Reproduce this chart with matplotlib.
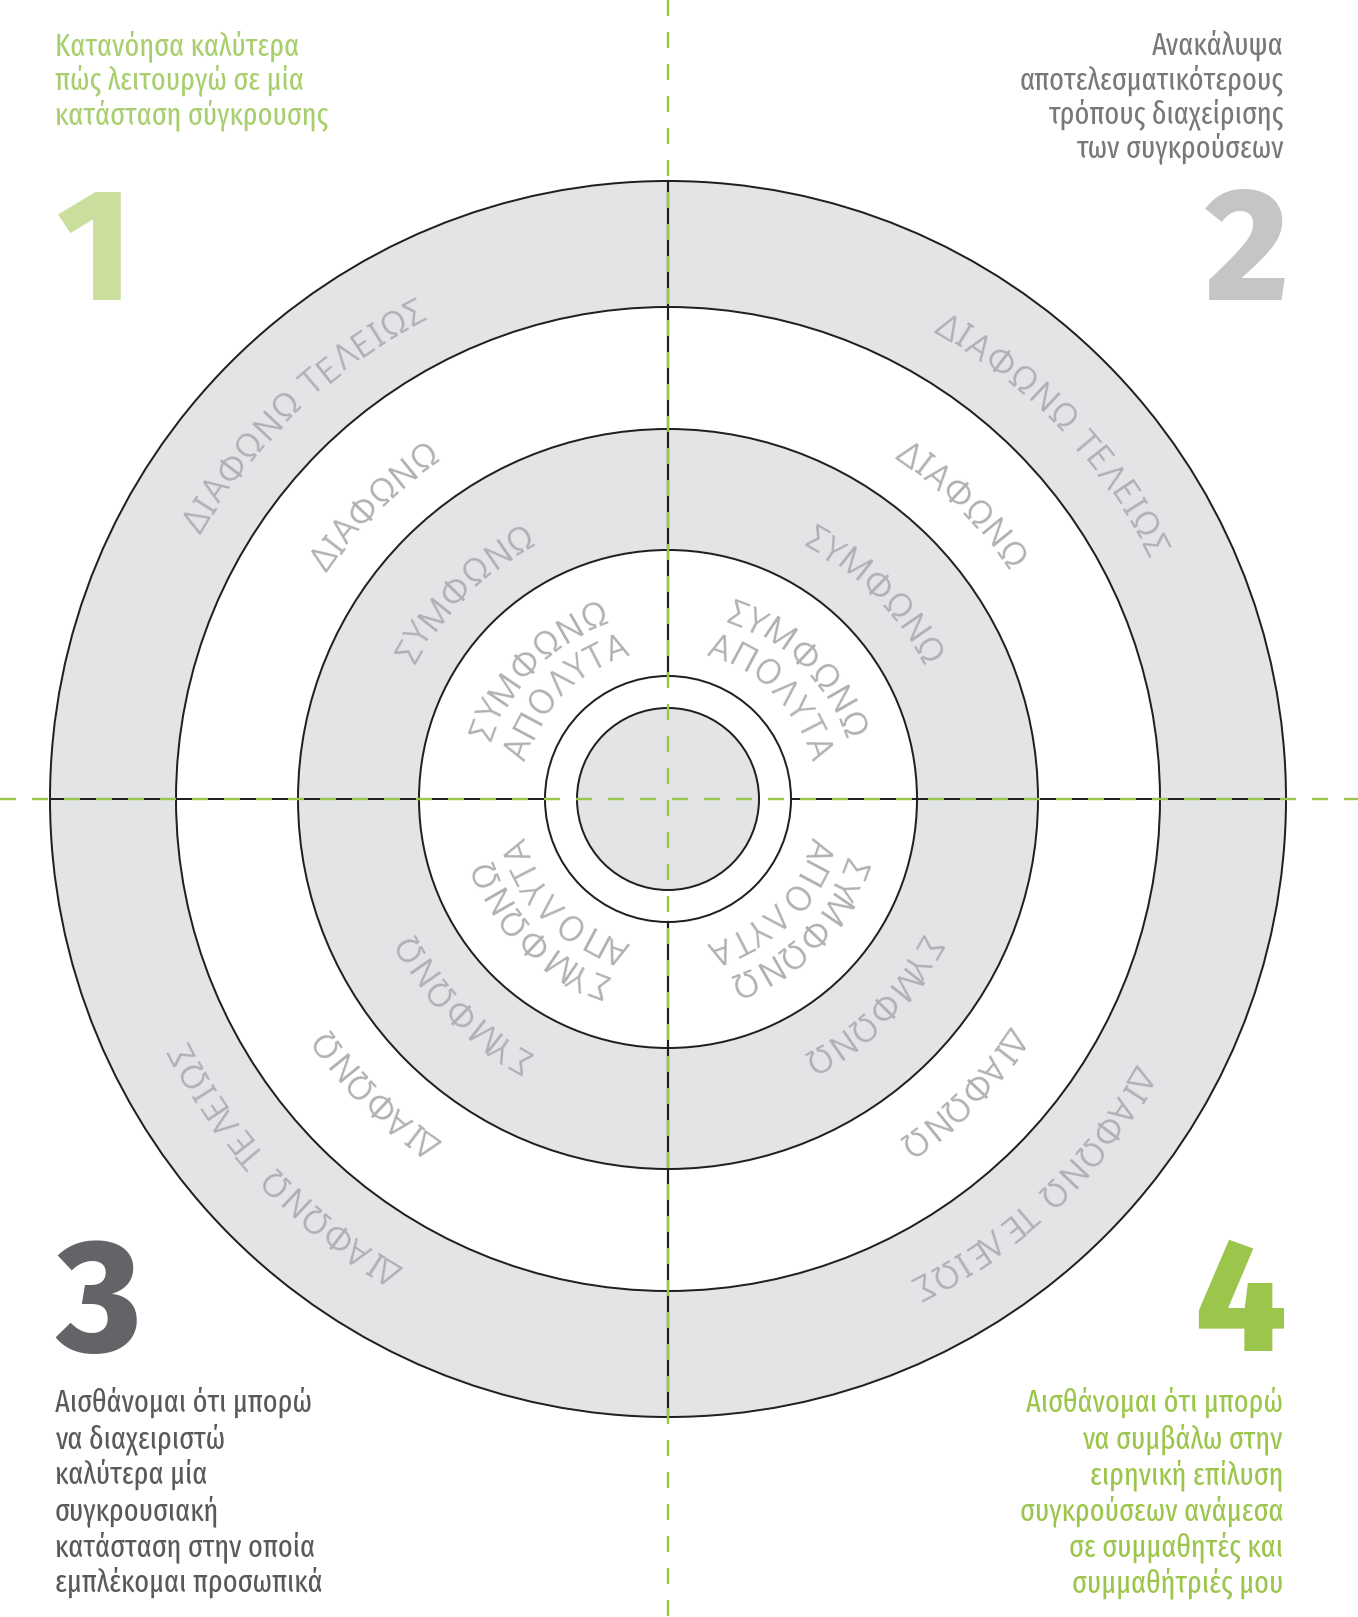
import numpy as np
import matplotlib
matplotlib.use("Agg")
import matplotlib.pyplot as plt
from matplotlib.patches import Circle
from matplotlib import font_manager as fm
from matplotlib.font_manager import FontProperties, findfont, get_font

W, H, DPI = 1358, 1617, 100
CX, CY = 668, 799

# labels of the rings, outer to inner (inner ring carries two lines)
RING_LABELS = ["ΔΙΑΦΩΝΩ ΤΕΛΕΙΩΣ", "ΔΙΑΦΩΝΩ", "ΣΥΜΦΩΝΩ", "ΣΥΜΦΩΝΩ", "ΑΠΟΛΥΤΑ"]

QUADRANT_NUMBERS = ["1", "2", "3", "4"]
CAPTION_1 = ["Κατανόησα καλύτερα", "πώς λειτουργώ σε μία", "κατάσταση σύγκρουσης"]
CAPTION_2 = ["Ανακάλυψα", "αποτελεσματικότερους", "τρόπους διαχείρισης", "των συγκρούσεων"]
CAPTION_3 = ["Αισθάνομαι ότι μπορώ", "να διαχειριστώ", "καλύτερα μία", "συγκρουσιακή",
             "κατάσταση στην οποία", "εμπλέκομαι προσωπικά"]
CAPTION_4 = ["Αισθάνομαι ότι μπορώ", "να συμβάλω στην", "ειρηνική επίλυση",
             "συγκρούσεων ανάμεσα", "σε συμμαθητές και", "συμμαθήτριές μου"]

# layout / style
RADII = [618, 492, 370, 249, 123, 91]
FILLS = ["#E3E4E6", "#FFFFFF", "#E3E4E6", "#FFFFFF", "#FFFFFF", "#E3E4E6"]
LABEL_BASE = [537, 409, 287, 186, 148]
LABEL_SHIFT = [-1.5, 0.0, -0.5, 0.0, 0.0]  # degrees, clockwise is negative
TRACK = [1.0, 0.5, 0.5, 0.5, 0.5]
QUAD_ANGLES = [135, 45, 225, 315]
GREEN = "#9BC550"
LINE = "#231F20"
LABEL_GREY = "#AFB1B4"
PX = 72 / DPI  # px -> pt

plt.rcParams["lines.scale_dashes"] = False

AVAILABLE = {f.name for f in fm.fontManager.ttflist}


def pick(*names):
    for n in names:
        if n in AVAILABLE:
            return n
    return "DejaVu Sans"


LABEL_FAMILY = pick("Didact Gothic", "Noto Sans")
CAP_FAMILY = pick("Fira Sans Extra Condensed", "Fira Sans Condensed", "Roboto Condensed", "Noto Sans")
NUM_FAMILY = pick("Fira Sans", "Open Sans")

LABEL_FONT = FontProperties(family=LABEL_FAMILY, size=27)
NUM_FONT = FontProperties(family=NUM_FAMILY, weight=800, size=115)
CAP_FONT = FontProperties(family=CAP_FAMILY, weight=400, size=22)


def advances(text, prop):
    font = get_font(findfont(prop))
    font.set_size(prop.get_size_in_points(), DPI)
    return [font.load_char(ord(c)).linearHoriAdvance / 65536 for c in text]


def arc_text(ax, text, rb, theta_c, prop, track=0.0, color=LABEL_GREY):
    adv = advances(text, prop)
    total = sum(adv) + track * (len(text) - 1)
    s = -total / 2
    for c, a in zip(text, adv):
        mid = s + a / 2
        th = np.radians(theta_c) - mid / rb
        if c != " ":
            ax.text(CX + rb * np.cos(th), CY - rb * np.sin(th), c,
                    fontproperties=prop, color=color, ha="center",
                    va="baseline", rotation=np.degrees(th) - 90,
                    rotation_mode="anchor")
        s += a + track


fig = plt.figure(figsize=(W / DPI, H / DPI), dpi=DPI)
ax = fig.add_axes([0, 0, 1, 1])
ax.set_xlim(0, W)
ax.set_ylim(H, 0)
ax.axis("off")

for r, fc in zip(RADII, FILLS):
    ax.add_patch(Circle((CX, CY), r, facecolor=fc, edgecolor=LINE, lw=2 * PX, zorder=1))

# solid black axis segments between outer and inner ring
for sgn in (-1, 1):
    ax.plot([CX + sgn * RADII[0], CX + sgn * RADII[4]], [CY, CY], color=LINE, lw=2 * PX, zorder=2)
    ax.plot([CX, CX], [CY + sgn * RADII[0], CY + sgn * RADII[4]], color=LINE, lw=2.2 * PX, zorder=2)

# green dashed cross over the whole page
ax.plot([0, W], [CY, CY], color=GREEN, lw=2.4 * PX, dashes=(16 * PX, 16 * PX), zorder=3)
ax.plot([CX, CX], [0, H], color=GREEN, lw=2.4 * PX, dashes=(16 * PX, 16 * PX), zorder=3)

for th in QUAD_ANGLES:
    for lab, rb, tr, sh in zip(RING_LABELS, LABEL_BASE, TRACK, LABEL_SHIFT):
        arc_text(ax, lab, rb, th + sh, LABEL_FONT, track=tr)

# quadrant numbers
num_colors = ["#CADE9D", "#C4C5C7", "#636467", "#9BC54B"]
num_pos = [(57, 300, "left"), (1288, 300, "right"), (56, 1351, "left"), (1286, 1351, "right")]
for n, col, (x, y, ha) in zip(QUADRANT_NUMBERS, num_colors, num_pos):
    ax.text(x, y, n, fontproperties=NUM_FONT, color=col, ha=ha, va="baseline")

# captions
cap_style = [
    (CAPTION_1, 55, 55, "left", "#A8CF6D", 34.5),
    (CAPTION_2, 1284, 55, "right", "#77787B", 34.2),
    (CAPTION_3, 55, 1412, "left", "#58595B", 36),
    (CAPTION_4, 1283, 1412, "right", "#9BC54B", 36),
]
for lines, x, y0, ha, col, step in cap_style:
    for i, line in enumerate(lines):
        ax.text(x, y0 + i * step, line, fontproperties=CAP_FONT, color=col,
                ha=ha, va="baseline")

fig.savefig("out.png", dpi=DPI)
